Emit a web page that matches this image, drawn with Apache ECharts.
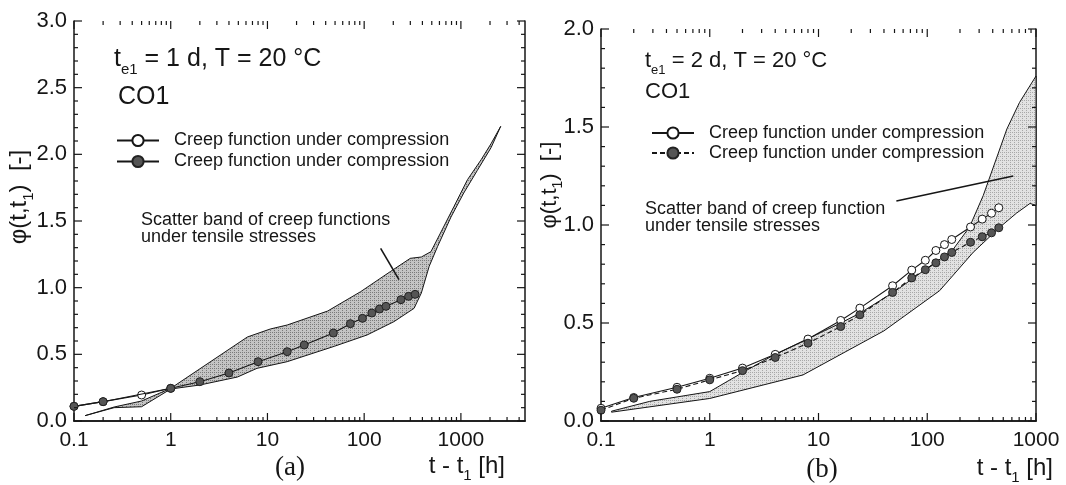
<!DOCTYPE html>
<html>
<head>
<meta charset="utf-8">
<script src="https://cdn.jsdelivr.net/npm/echarts@6/dist/echarts.min.js"></script>
<style>
html, body { margin: 0; padding: 0; background: #fff; }
#chart { width: 1066px; height: 485px; }
</style>
</head>
<body>
<div id="chart"></div>
<script>
// ---- panel (a): t_e1 = 1 d ----
const openA = [[0.1, 0.11], [0.2, 0.145], [0.5, 0.195], [1, 0.245]]
const filledA = [[0.1, 0.11], [0.2, 0.145], [1, 0.245], [2, 0.295], [4, 0.36], [8, 0.445], [16, 0.52], [24, 0.57],
  [48, 0.66], [72, 0.73], [96, 0.77], [120, 0.81], [144, 0.84], [168, 0.86], [240, 0.91], [288, 0.935], [336, 0.95]]
const bandUpperA = [[0.13, 0.04], [0.26, 0.105], [0.5, 0.15], [1, 0.245], [6.2, 0.63], [10.7, 0.69], [16, 0.72],
  [42, 0.825], [92, 0.97], [186, 1.12], [300, 1.22], [390, 1.23], [490, 1.27], [615, 1.41], [850, 1.61],
  [1170, 1.81], [1620, 1.96], [2050, 2.08], [2580, 2.21]]
const bandLowerA = [[0.13, 0.04], [0.26, 0.1], [0.5, 0.107], [1, 0.24], [2, 0.27], [4.9, 0.33], [7.8, 0.395],
  [16, 0.445], [49, 0.56], [107, 0.645], [203, 0.745], [328, 0.845], [390, 0.96], [470, 1.16], [575, 1.31],
  [790, 1.53], [1070, 1.71], [1480, 1.88], [2050, 2.05], [2580, 2.21]]

// ---- panel (b): t_e1 = 2 d ----
const openB = [[0.1, 0.065], [0.2, 0.12], [0.5, 0.172], [1, 0.218], [2, 0.27], [4, 0.34], [8, 0.418], [16, 0.513],
  [24, 0.576], [48, 0.69], [72, 0.77], [96, 0.82], [120, 0.87], [144, 0.9], [168, 0.926], [250, 0.99],
  [320, 1.03], [390, 1.06], [455, 1.088]]
const filledB = [[0.1, 0.055], [0.2, 0.116], [0.5, 0.162], [1, 0.21], [2, 0.257], [4, 0.324], [8, 0.397], [16, 0.482],
  [24, 0.542], [48, 0.656], [72, 0.73], [96, 0.772], [120, 0.807], [144, 0.837], [168, 0.86], [250, 0.912],
  [320, 0.94], [390, 0.96], [455, 0.986]]
const bandUpperB = [[0.125, 0.05], [0.28, 0.1], [1, 0.15], [2, 0.247], [3.7, 0.33], [8, 0.42], [16, 0.5], [24, 0.55],
  [50, 0.66], [100, 0.78], [170, 0.87], [245, 0.99], [327, 1.15], [540, 1.49], [705, 1.625], [1000, 1.76]]
const bandLowerB = [[0.125, 0.045], [1, 0.115], [7.2, 0.235], [40, 0.46], [130, 0.665], [264, 0.86], [468, 0.99],
  [660, 1.06], [880, 1.11], [1000, 1.1]]

// ---- axes ----
const xTicks = [0.1, 1, 10, 100, 1000]
const xTickLabels = ['0.1', '1', '10', '100', '1000']
const xMinorA = [0.2, 0.3, 0.4, 0.5, 0.6, 0.7, 0.8, 0.9, 2, 3, 4, 5, 6, 7, 8, 9, 20, 30, 40, 50, 60, 70, 80, 90,
  200, 300, 400, 500, 600, 700, 800, 900, 2000, 3000, 4000]
const xMinorB = [0.2, 0.3, 0.4, 0.5, 0.6, 0.7, 0.8, 0.9, 2, 3, 4, 5, 6, 7, 8, 9, 20, 30, 40, 50, 60, 70, 80, 90,
  200, 300, 400, 500, 600, 700, 800, 900]
const xMaxA = 4600
const xMaxB = 1000
const yMaxA = 3
const yMaxB = 2

// leader lines of the "scatter band" notes (data coords)
const leaderA = [[148, 1.295], [229, 1.06]]
const leaderB = [[52, 1.122], [618, 1.25]]

const INK = '#161616'
const FONT = 'Arial, "Liberation Sans", sans-serif'

function dots(bg, fg) {
  const c = document.createElement('canvas')
  c.width = 4
  c.height = 4
  const g = c.getContext('2d')
  g.fillStyle = bg
  g.fillRect(0, 0, 4, 4)
  g.fillStyle = fg
  g.fillRect(0, 0, 1, 1)
  g.fillRect(2, 2, 1, 1)
  g.fillRect(2, 0, 1, 1)
  return c
}

function xAxes(grid, max) {
  const base = {
    type: 'log', logBase: 10, min: 0.1, max: max, gridIndex: grid, splitLine: { show: false },
    axisLine: { show: true, lineStyle: { color: INK, width: 1.5 } }, axisTick: { show: false }
  }
  return [
    Object.assign({}, base, {
      position: 'bottom',
      axisLabel: {
        customValues: xTicks, margin: 9, fontSize: 21, color: INK, fontFamily: FONT,
        formatter: v => xTickLabels[xTicks.findIndex(t => Math.abs(t - v) / t < 1e-6)]
      }
    }),
    Object.assign({}, base, { position: 'top', axisLabel: { show: false } })
  ]
}

function yAxes(grid, max) {
  const base = {
    type: 'value', min: 0, max: max, interval: 0.5, gridIndex: grid, splitLine: { show: false },
    axisLine: { show: true, lineStyle: { color: INK, width: 1.5 } }, axisTick: { show: false }
  }
  return [
    Object.assign({}, base, {
      position: 'left',
      axisLabel: { margin: 7, fontSize: 22, color: INK, fontFamily: FONT, formatter: v => v.toFixed(1) }
    }),
    Object.assign({}, base, { position: 'right', axisLabel: { show: false } })
  ]
}

// inward ticks on all four sides, placed through the axis scales
function ticks(xi, yi, xMajor, xMinor, yMax) {
  const yMajor = []
  const yMinor = []
  for (let i = 0; i <= yMax * 10; i++) (i % 5 === 0 ? yMajor : yMinor).push(i / 10)
  const seg = (x1, y1, x2, y2, w) => ({ type: 'line', shape: { x1, y1, x2, y2 }, style: { stroke: INK, lineWidth: w } })
  return {
    type: 'custom', xAxisIndex: xi, yAxisIndex: yi, silent: true, z: 6, clip: false,
    data: xMajor.map(v => [v, 0]),
    renderItem(params, api) {
      if (params.dataIndex !== 0) return null
      const r = params.coordSys
      const top = r.y, bottom = r.y + r.height, left = r.x, right = r.x + r.width
      const out = []
      xMajor.concat(xMinor).forEach((v, k) => {
        const x = api.coord([v, 0])[0]
        const len = k < xMajor.length ? 8 : 4
        out.push(seg(x, bottom, x, bottom - len, 1.2), seg(x, top, x, top + len, 1.2))
      })
      yMajor.concat(yMinor).forEach((v, k) => {
        const y = api.coord([xMajor[0], v])[1]
        const len = k < yMajor.length ? 8 : 4
        out.push(seg(left, y, left + len, y, 1.2), seg(right, y, right - len, y, 1.2))
      })
      return { type: 'group', children: out }
    }
  }
}

function band(name, upper, lower, xi, yi, fill) {
  const poly = upper.concat(lower.slice().reverse())
  return {
    type: 'custom', name: name, xAxisIndex: xi, yAxisIndex: yi, data: poly, silent: true, z: 1,
    renderItem(params, api) {
      if (params.dataIndex !== 0) return null
      return {
        type: 'polygon',
        shape: { points: poly.map(p => api.coord(p)) },
        style: { fill: fill, stroke: INK, lineWidth: 1 }
      }
    }
  }
}

function curve(name, data, xi, yi, open, dashed, leader) {
  const s = {
    type: 'line', name: name, data: data, xAxisIndex: xi, yAxisIndex: yi, z: open ? 3 : 4,
    symbol: 'circle', symbolSize: 8, showAllSymbol: true,
    lineStyle: { color: INK, width: 1.1, type: dashed ? [5, 3] : 'solid' },
    itemStyle: open ? { color: '#fff', borderColor: INK, borderWidth: 1 } : { color: '#555', borderColor: '#222', borderWidth: 1 }
  }
  if (leader) {
    s.markLine = {
      silent: true, symbol: ['none', 'none'], label: { show: false },
      lineStyle: { color: INK, width: 1.6, type: 'solid' },
      data: [[{ coord: leader[0] }, { coord: leader[1] }]]
    }
  }
  return s
}

function legend(left, top, names, rowH) {
  return {
    left: left, top: top, orient: 'vertical', itemGap: 0, itemWidth: 42, itemHeight: 14,
    data: names, selectedMode: false,
    formatter: () => 'Creep function under compression',
    textStyle: { fontSize: 18, color: INK, fontFamily: FONT, lineHeight: rowH, padding: [0, 0, 0, 10] }
  }
}

// text with a subscript part: {m|...} main, {s|...} subscript
function richText(x, y, text, size, sub, align, rotation) {
  return {
    type: 'text', x: x, y: y, silent: true, rotation: rotation || 0,
    style: {
      text: text, fill: INK, font: size + 'px ' + FONT, align: align || 'left', verticalAlign: 'middle',
      rich: {
        m: { fontSize: size, fontFamily: FONT, fill: INK, verticalAlign: 'bottom', padding: [0, 0, Math.round(size * 0.22), 0] },
        s: { fontSize: sub, fontFamily: FONT, fill: INK, verticalAlign: 'bottom' }
      }
    }
  }
}

function plainText(x, y, text, font, align) {
  return {
    type: 'text', x: x, y: y, silent: true,
    style: { text: text, fill: INK, font: font, lineHeight: 17, align: align || 'left', verticalAlign: 'middle' }
  }
}

const chart = echarts.init(document.getElementById('chart'))
chart.setOption({
  backgroundColor: '#fff',
  animation: false,
  grid: [
    { left: 74, top: 21, width: 451, height: 400 },
    { left: 601, top: 29, width: 435, height: 392 }
  ],
  xAxis: xAxes(0, xMaxA).concat(xAxes(1, xMaxB)),
  yAxis: yAxes(0, yMaxA).concat(yAxes(1, yMaxB)),
  legend: [
    legend(111, 125, ['aOpen', 'aFilled'], 21),
    legend(646, 118, ['bOpen', 'bFilled'], 20)
  ],
  series: [
    band('bandA', bandUpperA, bandLowerA, 0, 0, { image: dots('#c4c4c4', '#7a7a7a'), repeat: 'repeat' }),
    curve('aOpen', openA, 0, 0, true, false),
    curve('aFilled', filledA, 0, 0, false, false, leaderA),
    ticks(0, 0, xTicks, xMinorA, yMaxA),
    band('bandB', bandUpperB, bandLowerB, 2, 2, { image: dots('#e2e2e2', '#a8a8a8'), repeat: 'repeat' }),
    curve('bOpen', openB, 2, 2, true, false),
    curve('bFilled', filledB, 2, 2, false, true, leaderB),
    ticks(2, 2, xTicks, xMinorB, yMaxB)
  ],
  graphic: [
    richText(114, 62, '{m|t}{s|e1}{m| = 1 d, T = 20 \u00b0C}', 25, 15),
    plainText(118, 97, 'CO1', '25px ' + FONT),
    plainText(141, 229, 'Scatter band of creep functions\nunder tensile stresses', '18px ' + FONT),
    richText(22, 197, '{m|\u03c6(t,t}{s|1}{m|)  [-]}', 24, 15, 'center', Math.PI / 2),
    richText(505, 469, '{m|t - t}{s|1}{m| [h]}', 24, 15, 'right'),
    plainText(290, 468, '(a)', '27px "Liberation Serif", "Times New Roman", serif', 'center'),

    richText(645, 63, '{m|t}{s|e1}{m| = 2 d, T = 20 \u00b0C}', 22, 13),
    plainText(645, 92, 'CO1', '22px ' + FONT),
    plainText(645, 218, 'Scatter band of creep function\nunder tensile stresses', '18px ' + FONT),
    richText(552, 185, '{m|\u03c6(t,t}{s|1}{m|)  [-]}', 22, 14, 'center', Math.PI / 2),
    richText(1053, 471, '{m|t - t}{s|1}{m| [h]}', 24, 15, 'right'),
    plainText(822, 470, '(b)', '27px "Liberation Serif", "Times New Roman", serif', 'center')
  ]
})
</script>
</body>
</html>
